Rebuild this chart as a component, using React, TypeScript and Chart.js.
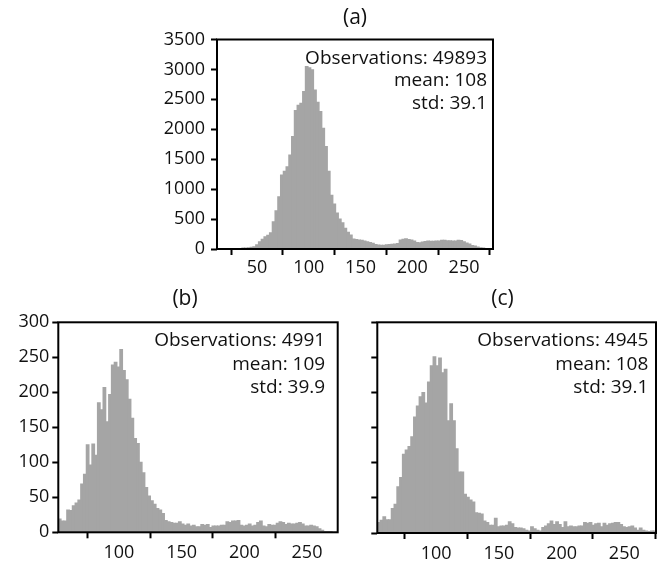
import React, { useEffect, useRef } from "react";
import { Chart, registerables } from "chart.js";

Chart.register(...registerables);

const FONT = "'Open Sans', sans-serif";
const BAR_COLOR = "#a5a5a5";

// ---------- (a) ----------
const A_TITLE = "(a)";
const A_STATS = ["Observations: 49893", "mean: 108", "std: 39.1"];
const A_X_MIN = 11.3;
const A_X_MAX = 278;
const A_Y_MAX = 3500;
const A_X_TICKS = [50, 100, 150, 200, 250];
const A_Y_TICKS = [0, 500, 1000, 1500, 2000, 2500, 3000, 3500];
const A_COUNTS = [
  0, 0, 0, 0, 0, 3, 3, 8, 8, 17,
  17, 20, 30, 39, 72, 123, 162, 206, 230, 273,
  457, 641, 875, 1237, 1300, 1376, 1572, 1878, 2313, 2400,
  2435, 2630, 3048, 3030, 2993, 2658, 2450, 2296, 2017, 1711,
  1300, 900, 750, 600, 500, 440, 345, 280, 234, 167,
  160, 150, 145, 134, 123, 110, 95, 75, 65, 61,
  62, 72, 74, 80, 84, 90, 150, 162, 173, 160,
  150, 134, 110, 106, 117, 125, 134, 128, 128, 134,
  134, 145, 145, 139, 139, 134, 134, 145, 140, 123,
  100, 84, 60, 50, 33, 22, 15, 8, 5, 3,
];

// ---------- (b) ----------
const B_TITLE = "(b)";
const B_STATS = ["Observations: 4991", "mean: 109", "std: 39.9"];
const B_X_MIN = 51.6;
const B_X_MAX = 274.5;
const B_Y_MAX = 300;
const B_X_TICKS = [100, 150, 200, 250];
const B_Y_TICKS = [0, 50, 100, 150, 200, 250, 300];
const B_COUNTS = [
  19, 16, 16, 32, 31, 38, 42, 46, 69, 83,
  125, 96, 126, 110, 185, 175, 207, 158, 197, 239,
  243, 236, 261, 231, 218, 190, 163, 134, 127, 100,
  85, 64, 52, 45, 40, 34, 32, 27, 17, 15,
  14, 13, 13, 15, 12, 10, 12, 9, 10, 8,
  8, 11, 10, 11, 7, 9, 9, 9, 10, 10,
  15, 14, 16, 16, 17, 10, 9, 10, 12, 9,
  10, 14, 16, 9, 8, 11, 10, 10, 13, 15,
  14, 11, 13, 12, 12, 13, 14, 12, 9, 9,
  10, 9, 8, 5, 3, 1, 1, 1, 0, 0,
];

// ---------- (c) ----------
const C_TITLE = "(c)";
const C_STATS = ["Observations: 4945", "mean: 108", "std: 39.1"];
const C_X_MIN = 53;
const C_X_MAX = 275.3;
const C_Y_MAX = 300;
const C_X_TICKS = [100, 150, 200, 250];
const C_Y_TICKS = [0, 50, 100, 150, 200, 250, 300];
const C_COUNTS = [
  15, 18, 23, 19, 19, 35, 41, 66, 79, 112,
  118, 123, 137, 165, 181, 194, 200, 185, 215, 238,
  251, 238, 249, 228, 233, 160, 184, 160, 120, 87,
  87, 55, 51, 47, 44, 29, 28, 27, 17, 15,
  11, 11, 21, 9, 10, 10, 11, 16, 13, 8,
  7, 7, 6, 4, 3, 9, 6, 4, 3, 8,
  10, 13, 17, 12, 16, 12, 8, 16, 9, 10,
  9, 9, 10, 10, 15, 14, 15, 11, 13, 14,
  9, 14, 11, 13, 14, 15, 15, 12, 9, 8,
  9, 10, 7, 4, 7, 4, 3, 2, 3, 3,
];

type Spec = {
  title: string;
  stats: string[];
  xMin: number;
  xMax: number;
  yMax: number;
  xTicks: number[];
  yTicks: number[];
  counts: number[];
  showYLabels: boolean;
  left: number;
  top: number;
  width: number;
  height: number;
  yAxisWidth: number;
  xAxisHeight: number;
  padTop: number;
  padRight: number;
  yLabelPad: number;
  xLabelPad: number;
  titleX: number;
  titleY: number;
  textRight: number;
  textTop: number;
  lineGap: number;
};

const overlayPlugin = {
  id: "overlay",
  afterDatasetsDraw(chart: any, _args: any, opts: any) {
    const { ctx, chartArea: a } = chart;
    ctx.save();
    ctx.strokeStyle = "#000";
    ctx.lineWidth = 2;
    ctx.strokeRect(a.left, a.top, a.right - a.left, a.bottom - a.top);
    ctx.fillStyle = "#111";
    ctx.font = `19px ${FONT}`;
    ctx.textAlign = "right";
    ctx.textBaseline = "alphabetic";
    (opts.stats as string[]).forEach((s, i) => {
      ctx.fillText(s, a.right - opts.textRight, a.top + opts.textTop + i * opts.lineGap);
    });
    ctx.textAlign = "center";
    ctx.textBaseline = "middle";
    ctx.font = `21px ${FONT}`;
    ctx.fillText(opts.title, opts.titleX, opts.titleY);
    ctx.restore();
  },
};

function Histogram({ spec }: { spec: Spec }) {
  const ref = useRef<HTMLCanvasElement | null>(null);
  useEffect(() => {
    if (!ref.current) return;
    const n = spec.counts.length;
    const binW = (spec.xMax - spec.xMin) / n;
    const points = spec.counts.map((c, i) => ({ x: spec.xMin + binW * (i + 0.5), y: c }));
    const chart = new Chart(ref.current, {
      type: "bar",
      data: {
        datasets: [
          {
            data: points as any,
            backgroundColor: BAR_COLOR,
            borderWidth: 0,
            barPercentage: 1,
            categoryPercentage: 1,
            inflateAmount: 0.5,
          } as any,
        ],
      },
      plugins: [overlayPlugin as any],
      options: {
        responsive: false,
        animation: false,
        events: [],
        layout: { padding: { top: spec.padTop, right: spec.padRight, left: 0, bottom: 0 } },
        plugins: {
          legend: { display: false },
          tooltip: { enabled: false },
          title: { display: false },
          overlay: {
            stats: spec.stats,
            title: spec.title,
            titleX: spec.titleX,
            titleY: spec.titleY,
            textRight: spec.textRight,
            textTop: spec.textTop,
            lineGap: spec.lineGap,
          },
        } as any,
        scales: {
          x: {
            type: "linear",
            min: spec.xMin,
            max: spec.xMax,
            offset: false,
            border: { display: false },
            grid: {
              display: true,
              drawOnChartArea: false,
              drawTicks: true,
              tickLength: 6,
              tickWidth: 2,
              tickColor: "#000",
            },
            ticks: {
              color: "#111",
              font: { family: FONT, size: 18 },
              padding: spec.xLabelPad,
              maxRotation: 0,
              autoSkip: false,
              callback: (v: any) => String(v),
            },
            afterBuildTicks: (scale: any) => {
              scale.ticks = spec.xTicks.map((v) => ({ value: v }));
            },
            afterFit: (scale: any) => {
              scale.height = spec.xAxisHeight;
            },
          },
          y: {
            type: "linear",
            min: 0,
            max: spec.yMax,
            border: { display: false },
            grid: {
              display: true,
              drawOnChartArea: false,
              drawTicks: true,
              tickLength: 6,
              tickWidth: 2,
              tickColor: "#000",
            },
            ticks: {
              color: "#111",
              font: { family: FONT, size: 18 },
              padding: spec.yLabelPad,
              autoSkip: false,
              callback: (v: any) => (spec.showYLabels ? String(v) : ""),
            },
            afterBuildTicks: (scale: any) => {
              scale.ticks = spec.yTicks.map((v) => ({ value: v }));
            },
            afterFit: (scale: any) => {
              scale.width = spec.yAxisWidth;
            },
          },
        },
      },
    });
    return () => chart.destroy();
  }, [spec]);
  return (
    <canvas
      ref={ref}
      width={spec.width}
      height={spec.height}
      style={{
        position: "absolute",
        left: spec.left,
        top: spec.top,
        width: spec.width,
        height: spec.height,
      }}
    />
  );
}

const SPEC_A: Spec = {
  title: A_TITLE, stats: A_STATS, xMin: A_X_MIN, xMax: A_X_MAX, yMax: A_Y_MAX,
  xTicks: A_X_TICKS, yTicks: A_Y_TICKS, counts: A_COUNTS, showYLabels: true,
  left: 140, top: 0, width: 360, height: 280,
  yAxisWidth: 77, xAxisHeight: 31, padTop: 39.5, padRight: 7, yLabelPad: 6, xLabelPad: 2,
  titleX: 215, titleY: 18.5, textRight: 6, textTop: 24, lineGap: 22.5,
};

const SPEC_B: Spec = {
  title: B_TITLE, stats: B_STATS, xMin: B_X_MIN, xMax: B_X_MAX, yMax: B_Y_MAX,
  xTicks: B_X_TICKS, yTicks: B_Y_TICKS, counts: B_COUNTS, showYLabels: true,
  left: 0, top: 280, width: 345, height: 281,
  yAxisWidth: 58.3, xAxisHeight: 28.7, padTop: 42.3, padRight: 7.3, yLabelPad: 3, xLabelPad: 4,
  titleX: 185, titleY: 19, textRight: 12.5, textTop: 24, lineGap: 23.5,
};

const SPEC_C: Spec = {
  title: C_TITLE, stats: C_STATS, xMin: C_X_MIN, xMax: C_X_MAX, yMax: C_Y_MAX,
  xTicks: C_X_TICKS, yTicks: C_Y_TICKS, counts: C_COUNTS, showYLabels: false,
  left: 345, top: 280, width: 320, height: 281,
  yAxisWidth: 32.3, xAxisHeight: 28, padTop: 42.3, padRight: 9, yLabelPad: 3, xLabelPad: 4,
  titleX: 157.5, titleY: 19, textRight: 7.7, textTop: 24, lineGap: 23.5,
};

export default function App() {
  return (
    <div style={{ position: "absolute", left: 0, top: 0, width: 665, height: 561, background: "#fff", overflow: "hidden" }}>
      <Histogram spec={SPEC_A} />
      <Histogram spec={SPEC_B} />
      <Histogram spec={SPEC_C} />
    </div>
  );
}
